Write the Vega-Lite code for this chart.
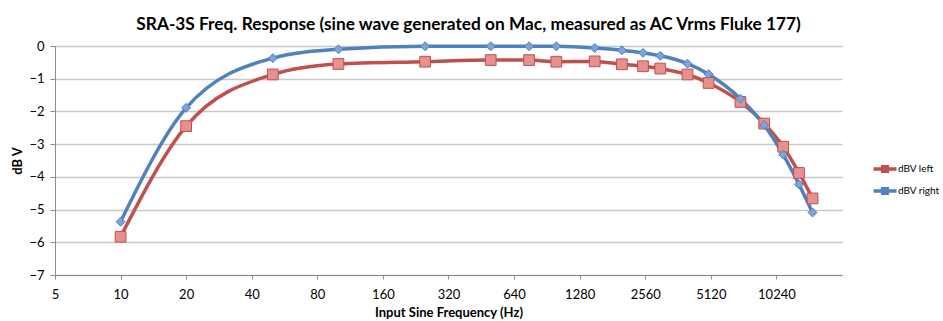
{
  "$schema": "https://vega.github.io/schema/vega-lite/v6.json",
  "width": 787,
  "height": 229,
  "autosize": "none",
  "padding": {"left": 55, "top": 46, "right": 101, "bottom": 46},
  "background": "white",
  "config": {"view": {"stroke": null}, "font": "Lato"},
  "title": {
    "text": "SRA-3S Freq. Response (sine wave generated on Mac, measured as AC Vrms Fluke 177)",
    "font": "Lato", "fontSize": 17.3, "fontWeight": "bold", "color": "#000",
    "anchor": "middle", "dx": 20, "offset": 6
  },
  "data": {"values": [
    {"freq": 10, "series": "dBV left", "db": -5.83},
    {"freq": 20, "series": "dBV left", "db": -2.45},
    {"freq": 50, "series": "dBV left", "db": -0.87},
    {"freq": 100, "series": "dBV left", "db": -0.55},
    {"freq": 250, "series": "dBV left", "db": -0.48},
    {"freq": 500, "series": "dBV left", "db": -0.43},
    {"freq": 750, "series": "dBV left", "db": -0.43},
    {"freq": 1000, "series": "dBV left", "db": -0.48},
    {"freq": 1500, "series": "dBV left", "db": -0.47},
    {"freq": 2000, "series": "dBV left", "db": -0.56},
    {"freq": 2500, "series": "dBV left", "db": -0.62},
    {"freq": 3000, "series": "dBV left", "db": -0.69},
    {"freq": 4000, "series": "dBV left", "db": -0.87},
    {"freq": 5000, "series": "dBV left", "db": -1.13},
    {"freq": 7000, "series": "dBV left", "db": -1.71},
    {"freq": 9000, "series": "dBV left", "db": -2.37},
    {"freq": 11000, "series": "dBV left", "db": -3.08},
    {"freq": 13000, "series": "dBV left", "db": -3.88},
    {"freq": 15000, "series": "dBV left", "db": -4.66},
    {"freq": 10, "series": "dBV right", "db": -5.37},
    {"freq": 20, "series": "dBV right", "db": -1.89},
    {"freq": 50, "series": "dBV right", "db": -0.37},
    {"freq": 100, "series": "dBV right", "db": -0.1},
    {"freq": 250, "series": "dBV right", "db": -0.01},
    {"freq": 500, "series": "dBV right", "db": -0.01},
    {"freq": 750, "series": "dBV right", "db": -0.01},
    {"freq": 1000, "series": "dBV right", "db": -0.01},
    {"freq": 1500, "series": "dBV right", "db": -0.06},
    {"freq": 2000, "series": "dBV right", "db": -0.13},
    {"freq": 2500, "series": "dBV right", "db": -0.21},
    {"freq": 3000, "series": "dBV right", "db": -0.3},
    {"freq": 4000, "series": "dBV right", "db": -0.54},
    {"freq": 5000, "series": "dBV right", "db": -0.86},
    {"freq": 7000, "series": "dBV right", "db": -1.61},
    {"freq": 9000, "series": "dBV right", "db": -2.42},
    {"freq": 11000, "series": "dBV right", "db": -3.32},
    {"freq": 13000, "series": "dBV right", "db": -4.23},
    {"freq": 15000, "series": "dBV right", "db": -5.09}
  ]},
  "encoding": {
    "x": {
      "field": "freq", "type": "quantitative",
      "scale": {"type": "log", "base": 2, "domain": [5, 20480], "nice": false},
      "axis": {
        "title": "Input Sine Frequency (Hz)",
        "values": [5, 10, 20, 40, 80, 160, 320, 640, 1280, 2560, 5120, 10240],
        "format": "d", "grid": false, "labelFlush": false, "labelOverlap": false,
        "domainColor": "#8c8c8c", "tickColor": "#8c8c8c", "tickSize": 4,
        "labelFont": "Lato", "labelFontSize": 13, "labelColor": "#000", "labelPadding": 9,
        "titleFont": "Lato", "titleFontSize": 13, "titleFontWeight": "bold", "titleColor": "#000", "titlePadding": 5
      }
    },
    "y": {
      "field": "db", "type": "quantitative",
      "scale": {"domain": [-7, 0], "nice": false, "zero": false},
      "axis": {
        "title": "dB V",
        "values": [-7, -6, -5, -4, -3, -2, -1, 0],
        "grid": true, "gridColor": "#c8c8c8", "gridWidth": 1.5,
        "domainColor": "#8c8c8c", "tickColor": "#8c8c8c", "tickSize": 5,
        "labelFont": "Lato", "labelFontSize": 13, "labelColor": "#000", "labelPadding": 6,
        "titleFont": "Lato", "titleFontSize": 13, "titleFontWeight": "bold", "titleColor": "#000", "titlePadding": 4
      }
    }
  },
  "layer": [
    {
      "mark": {"type": "line", "interpolate": "monotone", "strokeWidth": 3.5},
      "encoding": {
        "color": {
          "field": "series", "type": "nominal",
          "scale": {"domain": ["dBV left", "dBV right"], "range": ["#c0504d", "#4f81bd"]},
          "legend": {
            "title": null, "orient": "none", "legendX": 818, "legendY": 111,
            "labelFont": "Lato", "labelFontSize": 10, "labelColor": "#000", "labelOffset": 1,
            "symbolType": "M-1,-0.16L1,-0.16L1,0.16L-1,0.16Z M-0.35,-0.35L0.35,-0.35L0.35,0.35L-0.35,0.35Z",
            "symbolSize": 530, "symbolStrokeWidth": 0, "rowPadding": 5,
            "encode": {"symbols": {"update": {"fill": {"scale": "color", "field": "value"}, "opacity": {"value": 1}}}}
          }
        }
      }
    },
    {
      "transform": [{"filter": "datum.series === 'dBV left'"}],
      "mark": {"type": "point", "shape": "square", "size": 115, "filled": true, "opacity": 1, "fill": "#e5928e", "stroke": "#c0504d", "strokeWidth": 1}
    },
    {
      "transform": [{"filter": "datum.series === 'dBV right'"}],
      "mark": {"type": "point", "shape": "diamond", "size": 80, "filled": true, "opacity": 1, "fill": "#7fa2d8", "stroke": "#4f81bd", "strokeWidth": 1}
    }
  ]
}
